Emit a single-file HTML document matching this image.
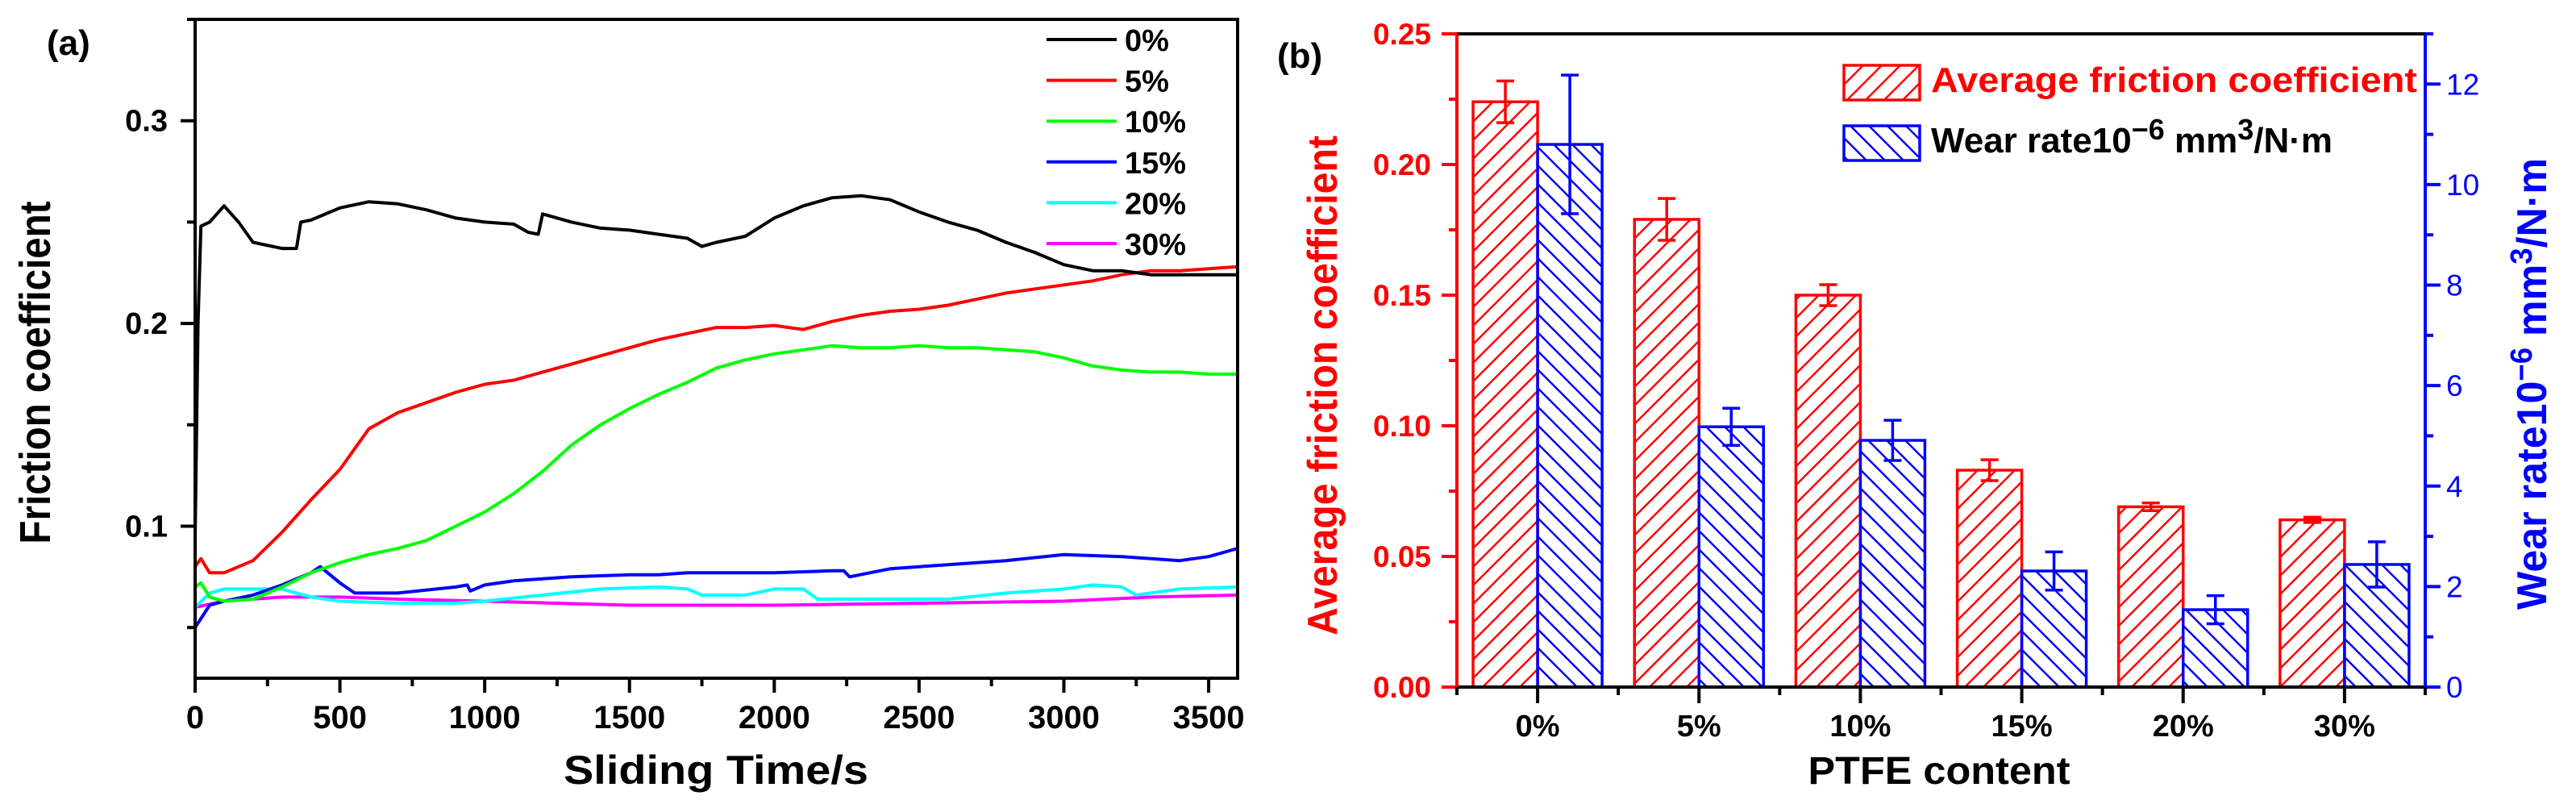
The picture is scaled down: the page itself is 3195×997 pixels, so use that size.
<!DOCTYPE html>
<html><head><meta charset="utf-8"><style>
html,body{margin:0;padding:0;background:#fff}
svg{display:block}
text{font-family:"Liberation Sans",Arial,sans-serif}
</style></head><body>
<svg id="fig" width="3195" height="997" viewBox="0 0 3195 997" xmlns="http://www.w3.org/2000/svg">
<defs>
<pattern id="hatchR" patternUnits="userSpaceOnUse" width="23" height="23" patternTransform="rotate(0)">
<path d="M-2,25 L25,-2 M-2,2 L2,-2 M21,25 L25,21" stroke="#f00" stroke-width="2.5"/>
</pattern>
<pattern id="hatchB" patternUnits="userSpaceOnUse" width="23" height="23">
<path d="M-2,-2 L25,25 M21,-2 L25,2 M-2,21 L2,25" stroke="#00f" stroke-width="2.5"/>
</pattern>
</defs>
<g id="chartA"></g>
<g id="chartB"></g>
</svg>
<script>
// ---------- Chart (a) data ----------
const tBlack=[0,10,20,50,100,150,200,300,350,365,400,500,600,700,800,900,1000,1100,1150,1185,1200,1300,1400,1500,1600,1700,1750,1800,1900,2000,2100,2200,2300,2400,2500,2600,2700,2800,2900,3000,3100,3200,3300,3400,3500,3600];
const vBlack=[0.094,0.2,0.248,0.25,0.258,0.25,0.24,0.237,0.237,0.25,0.251,0.257,0.26,0.259,0.256,0.252,0.25,0.249,0.245,0.244,0.254,0.25,0.247,0.246,0.244,0.242,0.238,0.24,0.243,0.252,0.258,0.262,0.263,0.261,0.255,0.25,0.246,0.24,0.235,0.229,0.226,0.226,0.224,0.224,0.224,0.224];
const tRed=[0,20,50,100,200,300,400,500,600,700,800,900,1000,1100,1200,1300,1400,1500,1600,1700,1800,1900,2000,2100,2200,2300,2400,2500,2600,2700,2800,2900,3000,3100,3200,3300,3400,3500,3600];
const vRed=[0.08,0.084,0.077,0.077,0.083,0.097,0.113,0.128,0.148,0.156,0.161,0.166,0.17,0.172,0.176,0.18,0.184,0.188,0.192,0.195,0.198,0.198,0.199,0.197,0.201,0.204,0.206,0.207,0.209,0.212,0.215,0.217,0.219,0.221,0.224,0.226,0.226,0.227,0.228];
const tGreen=[0,20,50,100,200,300,400,500,600,700,800,900,1000,1100,1200,1300,1400,1500,1600,1700,1800,1900,2000,2100,2200,2300,2400,2500,2600,2700,2800,2900,3000,3100,3200,3300,3400,3500,3600];
const vGreen=[0.07,0.072,0.065,0.063,0.064,0.07,0.077,0.082,0.086,0.089,0.093,0.1,0.107,0.116,0.127,0.14,0.15,0.158,0.165,0.171,0.178,0.182,0.185,0.187,0.189,0.188,0.188,0.189,0.188,0.188,0.187,0.186,0.183,0.179,0.177,0.176,0.176,0.175,0.175];
const tBlue=[0,50,100,200,300,400,432,500,551,700,900,940,950,1000,1100,1200,1300,1500,1600,1700,2000,2200,2240,2260,2400,2600,2800,3000,3200,3400,3500,3600];
const vBlue=[0.05,0.061,0.063,0.066,0.071,0.077,0.08,0.072,0.067,0.067,0.07,0.071,0.068,0.071,0.073,0.074,0.075,0.076,0.076,0.077,0.077,0.078,0.078,0.075,0.079,0.081,0.083,0.086,0.085,0.083,0.085,0.089];
const tCyan=[0,50,100,200,300,400,500,700,900,1000,1200,1400,1600,1700,1750,1900,2000,2100,2150,2300,2600,2800,3000,3100,3200,3250,3400,3600];
const vCyan=[0.06,0.067,0.069,0.069,0.069,0.065,0.063,0.062,0.062,0.063,0.066,0.069,0.07,0.069,0.066,0.066,0.069,0.069,0.064,0.064,0.064,0.067,0.069,0.071,0.07,0.066,0.069,0.07];
const tMag=[0,100,300,500,700,1000,1500,2000,2500,3000,3300,3600];
const vMag=[0.06,0.063,0.065,0.065,0.064,0.063,0.061,0.061,0.062,0.063,0.065,0.066];
const legendA=["0%","5%","10%","15%","20%","30%"];
const xTicksA=[0,500,1000,1500,2000,2500,3000,3500];
const yTicksA=[0.1,0.2,0.3];

// ---------- Chart (b) data ----------
const cats=["0%","5%","10%","15%","20%","30%"];
const frict=[0.224,0.179,0.150,0.083,0.069,0.064];
const frictErr=[0.008,0.008,0.004,0.004,0.0015,0.001];
const wear=[10.8,5.18,4.91,2.31,1.54,2.44];
const wearErr=[1.38,0.37,0.4,0.38,0.28,0.45];
const yTicksL=["0.00","0.05","0.10","0.15","0.20","0.25"];
const yTicksR=[0,2,4,6,8,10,12];

const NS="http://www.w3.org/2000/svg";
function mk(parent,tag,attrs,txt){const e=document.createElementNS(NS,tag);for(const k in attrs)e.setAttribute(k,attrs[k]);if(txt!==undefined)e.textContent=txt;parent.appendChild(e);return e;}

// ===== Chart A =====
const A=document.getElementById('chartA');
const aL=242,aR=1535,aT=24,aB=841;
const ax=t=>aL+(t/3600)*(aR-aL);
const ay=v=>aB-(v-0.025)/(0.35-0.025)*(aB-aT);
const series=[[tBlack,vBlack,"#000"],[tRed,vRed,"#f00"],[tGreen,vGreen,"#0f0"],[tBlue,vBlue,"#00f"],[tCyan,vCyan,"#0ff"],[tMag,vMag,"#f0f"]];
const sNames=["line-0pct","line-5pct","line-10pct","line-15pct","line-20pct","line-30pct"];
// draw in reverse-ish order like original (black on top)
[5,4,3,2,1,0].forEach(i=>{
  const [ts,vs,c]=series[i];
  const d=ts.map((t,j)=>(j?'L':'M')+ax(t).toFixed(1)+','+ay(vs[j]).toFixed(1)).join(' ');
  const p=mk(A,'path',{d:d,fill:'none',stroke:c,'stroke-width':4,'stroke-linejoin':'round'});
  
  
});
const frameA=mk(A,'rect',{x:aL,y:aT,width:aR-aL,height:aB-aT,fill:'none',stroke:'#000','stroke-width':4});


for(let t=0;t<=3600;t+=250){
  const major=t%500===0;
  const tk=mk(A,'line',{x1:ax(t),x2:ax(t),y1:aB,y2:aB+(major?18:10),stroke:'#000','stroke-width':4});
  
  
}
xTicksA.forEach(t=>{
  const l=mk(A,'text',{x:ax(t),y:903,'text-anchor':'middle','font-size':40,'font-weight':'bold'},String(t));
  
  
});
for(let v=0.05;v<=0.351;v+=0.05){
  const major=Math.abs(v*10-Math.round(v*10))<1e-6;
  const tk=mk(A,'line',{x1:aL,x2:aL-(major?18:10),y1:ay(v),y2:ay(v),stroke:'#000','stroke-width':4});
  
  
}
yTicksA.forEach(v=>{
  const l=mk(A,'text',{x:208,y:ay(v)+13,'text-anchor':'end','font-size':38,'font-weight':'bold'},v.toFixed(1));
  
  
});
const xtA=mk(A,'text',{x:888,y:972,'text-anchor':'middle','font-size':50,'font-weight':'bold',textLength:378,lengthAdjust:'spacingAndGlyphs'},'Sliding Time/s');


const ytA=mk(A,'text',{x:0,y:0,'text-anchor':'middle','font-size':54,'font-weight':'bold',textLength:425,lengthAdjust:'spacingAndGlyphs',transform:'translate(62,462) rotate(-90)'},'Friction coefficient');


const labA=mk(A,'text',{x:58,y:68,'font-size':44,'font-weight':'bold','font-family':'Liberation Serif, serif'},'(a)');


const legColors=["#000","#f00","#0f0","#00f","#0ff","#f0f"];
legendA.forEach((s,i)=>{
  const y=49+i*50.6;
  const g=mk(A,'g',{});
  
  
  mk(g,'line',{x1:1298,x2:1385,y1:y,y2:y,stroke:legColors[i],'stroke-width':4});
  mk(g,'text',{x:1395,y:y+14,'font-size':38,'font-weight':'bold'},s);
});

// ===== Chart B =====
const B=document.getElementById('chartB');
const bL=1807,bR=3008,bT=42,bB=852;
const yl=v=>bB-v/0.25*(bB-bT);
const yr=v=>bB-v/13*(bB-bT);
const step=(bR-bL)/cats.length;
const cx=i=>bL+step*(i+0.5);
const bw=80;
cats.forEach((c,i)=>{
  const r=mk(B,'rect',{x:cx(i)-bw,y:yl(frict[i]),width:bw,height:bB-yl(frict[i]),fill:'url(#hatchR)',stroke:'#f00','stroke-width':3.5});
  
  
  const b=mk(B,'rect',{x:cx(i),y:yr(wear[i]),width:bw,height:bB-yr(wear[i]),fill:'url(#hatchB)',stroke:'#00f','stroke-width':3.5});
  
  
});
cats.forEach((c,i)=>{
  const x1=cx(i)-bw/2, x2=cx(i)+bw/2;
  const e1=mk(B,'path',{d:`M${x1},${yl(frict[i]+frictErr[i])}V${yl(frict[i]-frictErr[i])}M${x1-11},${yl(frict[i]+frictErr[i])}h22M${x1-11},${yl(frict[i]-frictErr[i])}h22`,stroke:'#f00','stroke-width':3.5,fill:'none'});
  
  
  const e2=mk(B,'path',{d:`M${x2},${yr(wear[i]+wearErr[i])}V${yr(wear[i]-wearErr[i])}M${x2-11},${yr(wear[i]+wearErr[i])}h22M${x2-11},${yr(wear[i]-wearErr[i])}h22`,stroke:'#00f','stroke-width':3.5,fill:'none'});
  
  
});
// axes
const topB=mk(B,'line',{x1:bL,x2:bR,y1:bT,y2:bT,stroke:'#000','stroke-width':4});


const botB=mk(B,'line',{x1:bL-2,x2:bR+2,y1:bB,y2:bB,stroke:'#000','stroke-width':4});


const lax=mk(B,'line',{x1:bL,x2:bL,y1:bT,y2:bB,stroke:'#f00','stroke-width':4});


const rax=mk(B,'line',{x1:bR,x2:bR,y1:bT,y2:bB,stroke:'#00f','stroke-width':4});


for(let k=0;k<=10;k++){
  const v=k*0.025;
  const tk=mk(B,'line',{x1:bL,x2:bL-(k%2===0?19:10),y1:yl(v),y2:yl(v),stroke:'#f00','stroke-width':4});
  
  
}
yTicksL.forEach(s=>{
  const l=mk(B,'text',{x:1775,y:yl(parseFloat(s))+13,'text-anchor':'end','font-size':37,'font-weight':'bold',fill:'#f00'},s);
  
  
});
for(let k=0;k<=13;k++){
  const tk=mk(B,'line',{x1:bR,x2:bR+(k%2===0?19:10),y1:yr(k),y2:yr(k),stroke:'#00f','stroke-width':4});
  
  
}
yTicksR.forEach(v=>{
  const l=mk(B,'text',{x:3034,y:yr(v)+13,'font-size':37,fill:'#00f'},String(v));
  
  
});
for(let k=0;k<=cats.length;k++){
  const tkm=mk(B,'line',{x1:bL+step*k,x2:bL+step*k,y1:bB,y2:bB+10,stroke:'#000','stroke-width':4});
  
  
}
cats.forEach((c,i)=>{
  const tk=mk(B,'line',{x1:cx(i),x2:cx(i),y1:bB,y2:bB+20,stroke:'#000','stroke-width':4});
  
  
  const l=mk(B,'text',{x:cx(i),y:913,'text-anchor':'middle','font-size':38,'font-weight':'bold'},c);
  
  
});
const xtB=mk(B,'text',{x:2405,y:972,'text-anchor':'middle','font-size':48,'font-weight':'bold',textLength:325,lengthAdjust:'spacingAndGlyphs'},'PTFE content');


const ytL=mk(B,'text',{x:0,y:0,'text-anchor':'middle','font-size':52,'font-weight':'bold',fill:'#f00',textLength:620,lengthAdjust:'spacingAndGlyphs',transform:'translate(1658,478) rotate(-90)'},'Average friction coefficient');


const ytR=mk(B,'text',{x:0,y:0,'text-anchor':'middle','font-size':52,'font-weight':'bold',fill:'#00f',textLength:560,lengthAdjust:'spacingAndGlyphs',transform:'translate(3158,476) rotate(-90)'});


ytR.innerHTML='Wear rate10<tspan dy="-18" font-size="38">−6</tspan><tspan dy="18"> mm</tspan><tspan dy="-18" font-size="38">3</tspan><tspan dy="18">/N·m</tspan>';
const labB=mk(B,'text',{x:1584,y:84,'font-size':44,'font-weight':'bold','font-family':'Liberation Serif, serif'},'(b)');


// legend
const lg1=mk(B,'g',{});


mk(lg1,'rect',{x:2287,y:81,width:94,height:43,fill:'url(#hatchR)',stroke:'#f00','stroke-width':3.5});
mk(lg1,'text',{x:2395,y:114,'font-size':44,'font-weight':'bold',fill:'#f00',textLength:603,lengthAdjust:'spacingAndGlyphs'},'Average friction coefficient');
const lg2=mk(B,'g',{});


mk(lg2,'rect',{x:2287,y:156,width:94,height:43,fill:'url(#hatchB)',stroke:'#00f','stroke-width':3.5});
const lt=mk(lg2,'text',{x:2395,y:189,'font-size':44,'font-weight':'bold',fill:'#000'});
lt.innerHTML='Wear rate10<tspan dy="-16" font-size="36">−6</tspan><tspan dy="16"> mm</tspan><tspan dy="-16" font-size="36">3</tspan><tspan dy="16">/N·m</tspan>';
</script>
</body></html>
